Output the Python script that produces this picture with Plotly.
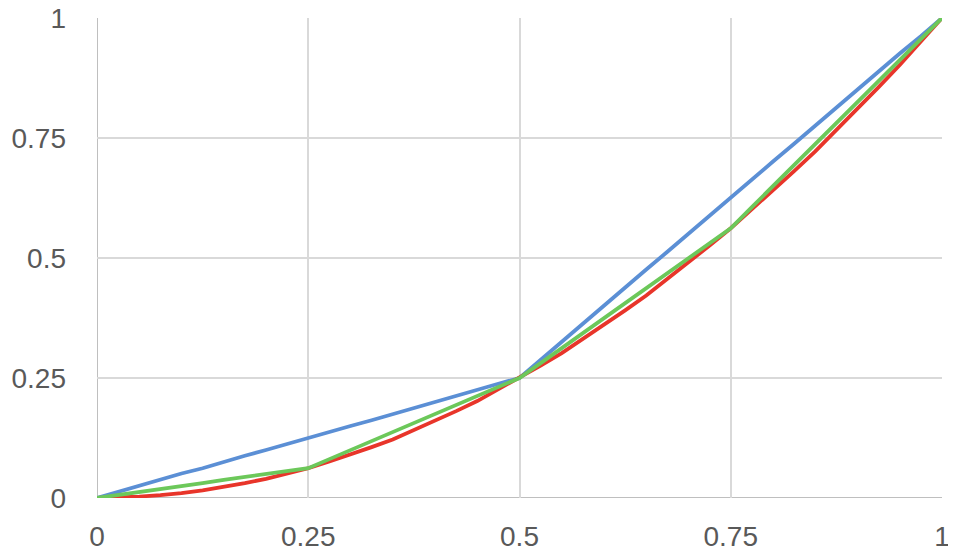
import plotly.graph_objects as go

# x positions (read every 0.025)
xs = [0, 0.025, 0.05, 0.075, 0.1, 0.125, 0.15, 0.175, 0.2, 0.225,
      0.25, 0.275, 0.3, 0.325, 0.35, 0.375, 0.4, 0.425, 0.45, 0.475,
      0.5, 0.525, 0.55, 0.575, 0.6, 0.625, 0.65, 0.675, 0.7, 0.725,
      0.75, 0.775, 0.8, 0.825, 0.85, 0.875, 0.9, 0.925, 0.95, 0.975, 1]

blue = [0, 0.013, 0.026, 0.038, 0.051, 0.062, 0.076, 0.088, 0.100, 0.113,
        0.125, 0.138, 0.150, 0.162, 0.175, 0.188, 0.200, 0.213, 0.226, 0.238,
        0.250, 0.288, 0.326, 0.363, 0.401, 0.438, 0.476, 0.513, 0.551, 0.588,
        0.626, 0.663, 0.701, 0.738, 0.776, 0.813, 0.851, 0.888, 0.926, 0.962, 1]

red = [0, 0.001, 0.003, 0.006, 0.010, 0.016, 0.023, 0.031, 0.040, 0.051,
       0.062, 0.076, 0.090, 0.106, 0.122, 0.141, 0.160, 0.181, 0.202, 0.226,
       0.250, 0.276, 0.302, 0.331, 0.360, 0.391, 0.422, 0.456, 0.490, 0.526,
       0.562, 0.601, 0.640, 0.681, 0.722, 0.766, 0.810, 0.856, 0.902, 0.951, 1]

green = [0, 0.006, 0.012, 0.019, 0.025, 0.031, 0.038, 0.044, 0.050, 0.056,
         0.062, 0.081, 0.100, 0.119, 0.138, 0.156, 0.175, 0.194, 0.212, 0.231,
         0.250, 0.281, 0.312, 0.344, 0.375, 0.406, 0.438, 0.469, 0.500, 0.531,
         0.562, 0.606, 0.650, 0.694, 0.738, 0.781, 0.825, 0.869, 0.912, 0.956, 1]

tick_vals = [0, 0.25, 0.5, 0.75, 1]
tick_text = ['0', '0.25', '0.5', '0.75', '1']

fig = go.Figure()
fig.add_trace(go.Scatter(x=xs, y=blue, mode='lines', line=dict(color='#5b8fd5', width=3.8)))
fig.add_trace(go.Scatter(x=xs, y=red, mode='lines', line=dict(color='#e8352a', width=3.8)))
fig.add_trace(go.Scatter(x=xs, y=green, mode='lines', line=dict(color='#6cc85a', width=3.8)))

axis_style = dict(
    range=[0, 1], tickvals=tick_vals, ticktext=tick_text,
    showgrid=True, gridcolor='#d9d9d9', gridwidth=1.5,
    zeroline=False, showline=False, ticks='', automargin=False,
    ticklabeloverflow='allow',
    tickfont=dict(family='Liberation Sans, Arial, sans-serif', size=28, color='#595959'),
)

# page body adds an 8px offset, margins compensate for it
fig.update_layout(
    width=956, height=554,
    margin=dict(l=89, r=22, t=10, b=64),
    plot_bgcolor='white', paper_bgcolor='white',
    showlegend=False,
    xaxis=dict(axis_style, ticklabelstandoff=19),
    yaxis=dict(axis_style, ticklabelstandoff=30),
)

# darker axis lines at x=0 and y=0
fig.add_shape(type='line', x0=0, x1=0, y0=0, y1=1, xref='x', yref='y',
              line=dict(color='#bfbfbf', width=2), layer='below')
fig.add_shape(type='line', x0=0, x1=1, y0=0, y1=0, xref='x', yref='y',
              line=dict(color='#bfbfbf', width=2), layer='below')

fig.write_html("out.html")
